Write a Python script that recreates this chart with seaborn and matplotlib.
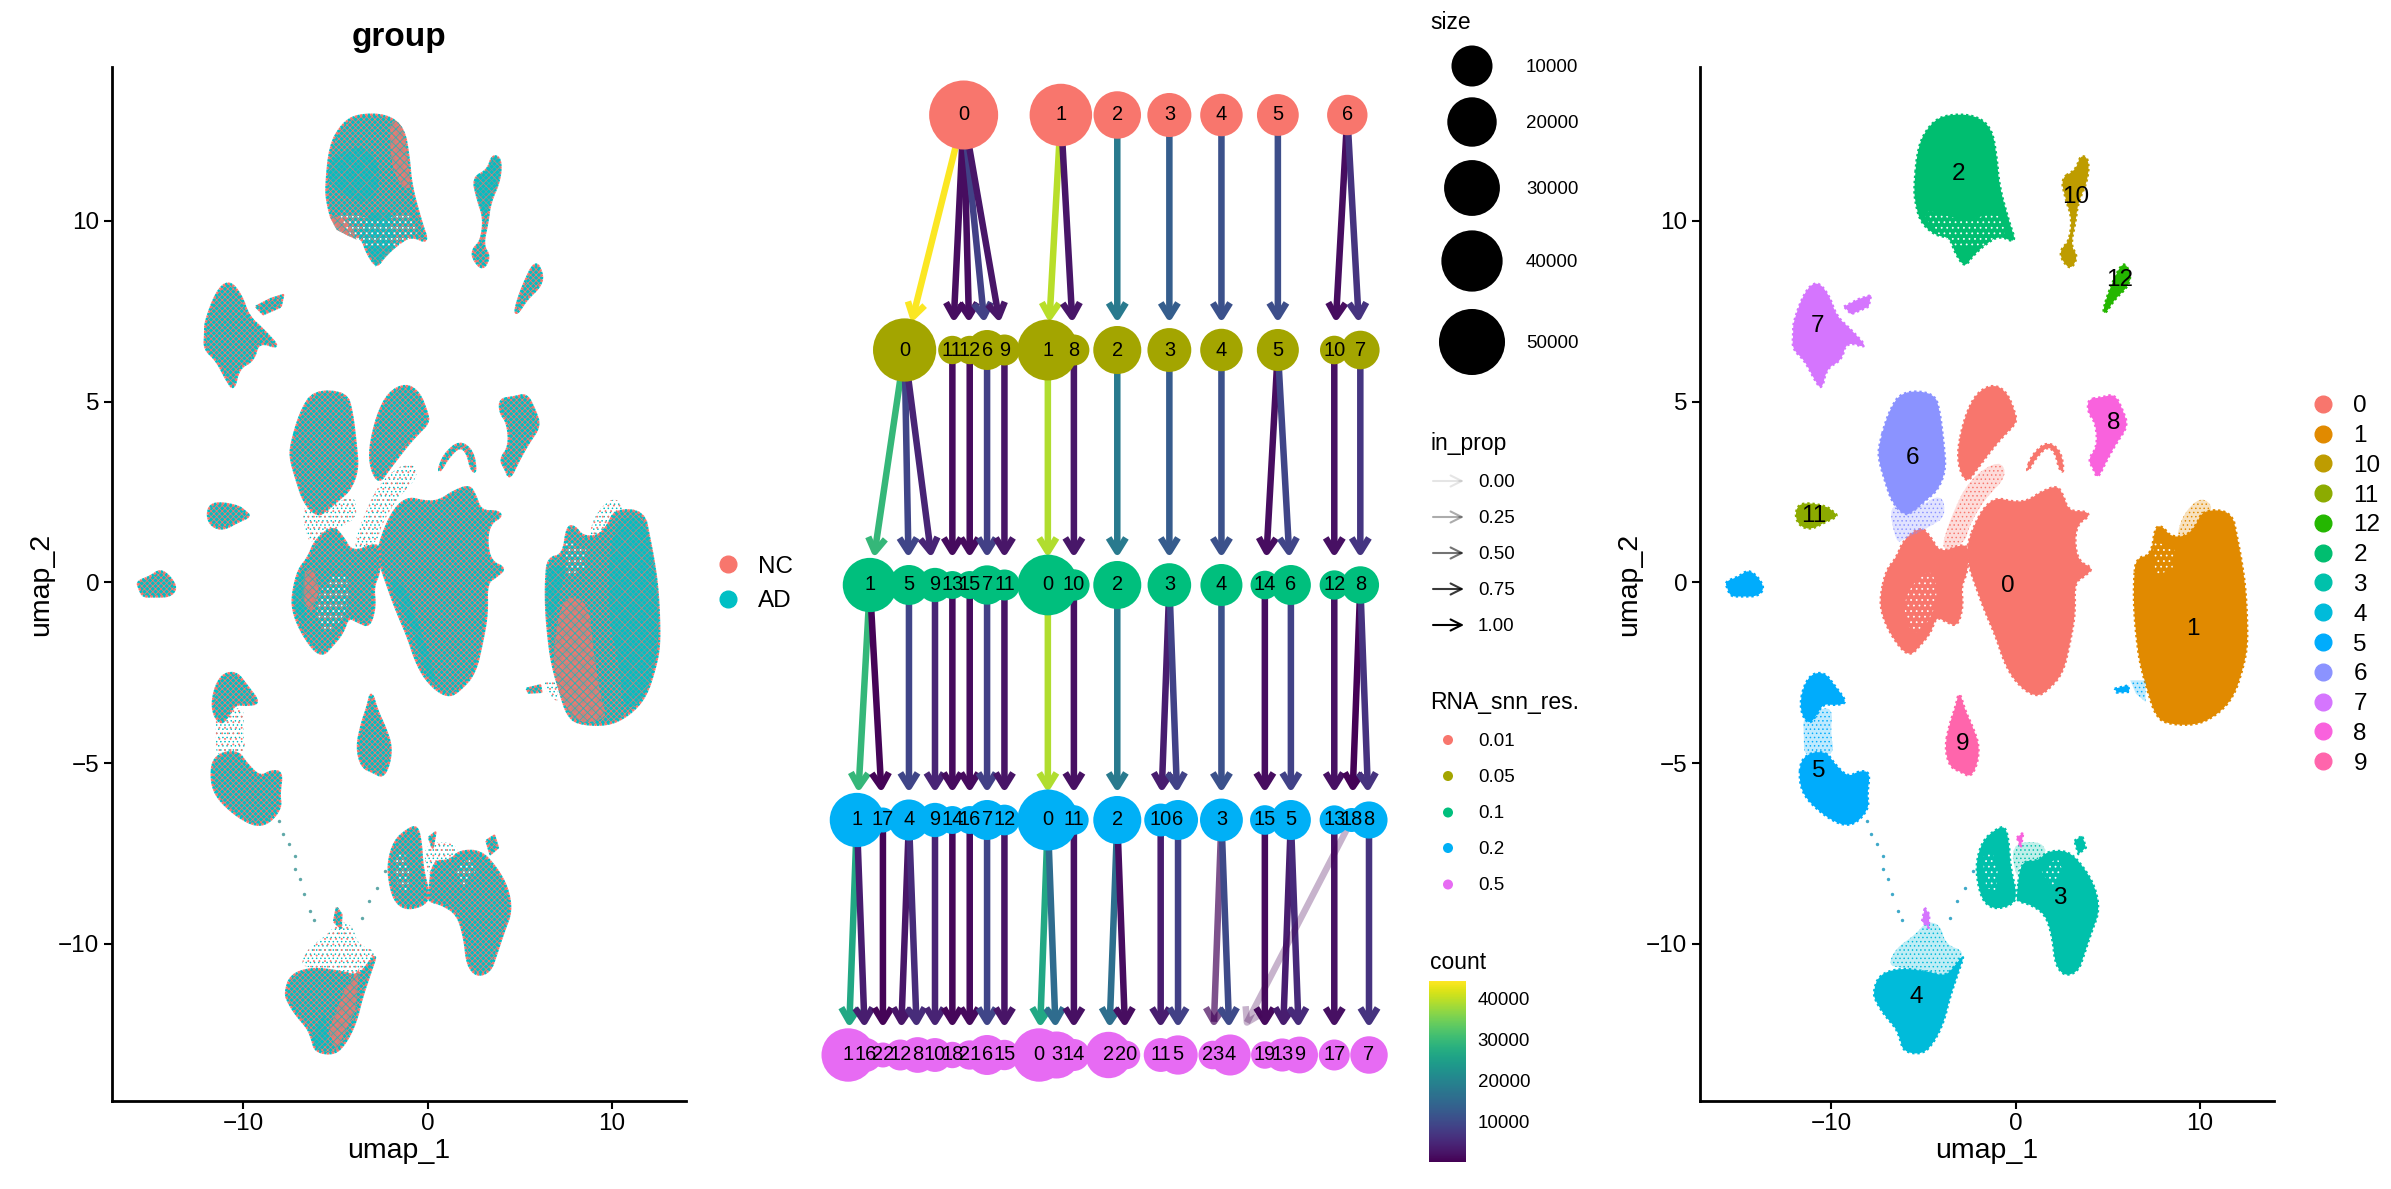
import numpy as np
import pandas as pd
import matplotlib
matplotlib.use("Agg")
import matplotlib.pyplot as plt
import seaborn as sns
from matplotlib.lines import Line2D
from matplotlib.patches import FancyArrowPatch
from matplotlib.colors import Normalize
from matplotlib.cm import ScalarMappable

# --- umap outlines (umap_1, umap_2) ---
c0_main = [(-2.53, 1.18), (-2.11, 1.73), (-1.59, 2.15), (-0.97, 2.34), (-0.24, 2.24), (0.59, 2.24), (1.42, 2.52),
           (2.25, 2.68), (2.57, 2.43), (2.88, 1.97), (3.81, 1.97), (4.02, 1.83), (3.40, 1.64), (3.19, 1.18),
           (3.40, 0.58), (4.23, 0.39), (3.71, 0.16), (3.19, -0.02), (3.23, -0.86), (2.98, -1.60), (2.57, -2.52),
           (1.73, -2.99), (1.21, -3.15), (0.59, -3.03), (-0.14, -2.66), (-0.66, -2.15), (-1.07, -1.50),
           (-1.70, -0.76), (-2.22, -0.02), (-2.53, 0.44), (-2.63, 0.90)]
c0_left = [(-7.31, -0.30), (-7.0, 0.35), (-6.48, 0.67), (-6.07, 1.18), (-5.13, 1.55), (-4.61, 1.27), (-4.09, 0.81),
           (-2.74, 1.09), (-2.53, 0.81), (-2.63, 0.25), (-2.95, -0.12), (-2.84, -0.67), (-3.15, -1.23),
           (-3.78, -1.09), (-4.30, -0.95), (-4.61, -1.41), (-5.23, -1.78), (-5.65, -2.01), (-6.17, -1.88),
           (-6.90, -1.32), (-7.31, -0.76)]
c0_upper = [(-3.15, 3.68), (-2.74, 4.61), (-2.11, 5.25), (-1.18, 5.49), (-0.45, 5.25), (-0.03, 4.70), (0.07, 4.42),
            (-0.66, 4.05), (-1.28, 3.68), (-2.11, 3.12), (-2.63, 2.75), (-3.05, 3.12)]
c0_arc = [(0.59, 3.12), (0.90, 3.54), (1.73, 3.91), (2.46, 3.63), (2.63, 3.03), (2.36, 3.12), (2.15, 3.59),
          (1.73, 3.77), (1.11, 3.45), (0.69, 3.08)]
c1_main = [(6.41, 0.07), (6.52, 0.67), (7.35, 0.76), (7.56, 1.55), (7.97, 1.55), (8.39, 1.27), (9.22, 1.27),
           (9.74, 1.55), (10.16, 2.01), (11.72, 1.97), (12.03, 1.18), (12.24, 0.62), (12.45, -0.12), (12.55, -1.04),
           (12.55, -1.78), (12.34, -2.34), (11.82, -3.17), (10.89, -3.68), (9.74, -3.96), (8.08, -3.91),
           (7.56, -3.64), (7.25, -3.17), (6.73, -2.25), (6.52, -1.41), (6.41, -0.67)]
c2_main = [(-5.51, 10.92), (-5.29, 12.09), (-4.63, 12.68), (-3.82, 12.94), (-2.22, 12.94), (-1.29, 12.57),
           (-1.02, 11.77), (-0.89, 10.98), (-0.35, 9.97), (0.05, 9.38), (-0.89, 9.60), (-1.69, 9.33), (-2.36, 9.01),
           (-2.76, 8.71), (-3.29, 9.12), (-3.56, 9.54), (-4.36, 9.60), (-5.16, 9.97), (-5.43, 10.50)]
c3_ring = [(-2.16, -7.80), (-1.80, -7.15), (-1.07, -6.83), (-0.55, -6.74), (-0.35, -7.25), (-0.28, -7.89),
           (0.07, -8.63), (-0.14, -8.91), (-1.07, -9.05), (-1.70, -8.87), (-2.01, -8.45)]
c3_main = [(0.07, -8.63), (0.28, -7.71), (1.21, -7.71), (1.73, -7.43), (2.88, -7.43), (3.71, -7.89), (4.33, -8.45),
           (4.54, -9.10), (4.13, -9.65), (3.71, -10.30), (3.40, -10.76), (2.67, -10.90), (2.15, -10.58),
           (2.00, -9.84), (1.63, -9.19), (0.80, -8.91), (0.07, -8.82)]
c3_top = [(3.19, -7.15), (3.61, -7.01), (3.81, -7.34), (3.40, -7.52)]
c4_main = [(-7.73, -11.37), (-7.42, -10.86), (-6.27, -10.67), (-4.82, -10.76), (-3.78, -10.90), (-3.26, -10.58),
           (-2.74, -10.25), (-3.15, -10.86), (-3.57, -11.50), (-3.88, -12.15), (-4.40, -12.71), (-5.03, -13.06),
           (-6.07, -12.99), (-6.27, -12.62), (-6.48, -12.34), (-7.11, -11.97), (-7.52, -11.64)]
c5_far = [(-15.74, 0.02), (-15.01, 0.16), (-14.49, 0.35), (-13.97, 0.16), (-13.60, -0.16), (-13.97, -0.39),
          (-14.91, -0.39), (-15.43, -0.39), (-15.63, -0.16)]
c5_upper = [(-11.68, -3.36), (-11.47, -2.85), (-11.02, -2.52), (-10.33, -2.50), (-9.81, -2.85), (-9.08, -3.34),
            (-9.81, -3.40), (-10.43, -3.36), (-10.85, -3.73), (-11.16, -3.91), (-11.52, -3.73)]
c5_lower = [(-11.72, -5.39), (-11.64, -4.93), (-11.06, -4.70), (-10.23, -4.70), (-9.81, -5.02), (-9.08, -5.39),
            (-8.46, -5.21), (-7.88, -5.25), (-8.04, -5.86), (-7.94, -6.23), (-8.56, -6.64), (-9.29, -6.74),
            (-10.23, -6.50), (-11.16, -6.09), (-11.58, -5.76)]
c5_small = [(5.37, -2.94), (6.10, -2.85), (6.16, -3.03), (5.48, -3.05)]
c6_main = [(-7.42, 3.77), (-6.90, 4.70), (-6.17, 5.30), (-4.40, 5.25), (-4.09, 4.70), (-3.88, 3.77), (-3.78, 3.12),
           (-4.19, 2.57), (-4.82, 2.29), (-5.44, 2.01), (-5.96, 1.83), (-6.69, 2.20), (-7.11, 2.85), (-7.42, 3.40)]
c7_main = [(-12.05, 7.20), (-11.43, 8.05), (-10.76, 8.35), (-10.10, 7.95), (-9.70, 7.36), (-8.90, 6.99),
           (-7.96, 6.46), (-9.16, 6.67), (-9.43, 6.14), (-10.23, 5.93), (-10.50, 5.31), (-10.90, 5.61),
           (-11.43, 6.14), (-12.10, 6.46), (-12.05, 6.88)]
c7_branch = [(-9.30, 7.63), (-8.50, 7.84), (-7.83, 7.95), (-7.96, 7.63), (-8.90, 7.42)]
c7_streak = [(-4.92, -9.00), (-4.67, -9.19), (-4.71, -9.56), (-5.07, -9.38)]
c8_main = [(3.92, 5.07), (4.65, 5.12), (5.37, 5.21), (5.79, 4.79), (6.10, 4.33), (5.48, 3.87), (4.96, 3.40),
           (4.44, 2.85), (4.23, 3.12), (3.92, 3.40), (4.44, 3.77), (4.33, 4.42), (3.92, 4.70)]
c8_streak = [(0.07, -7.06), (0.42, -6.92), (0.28, -7.34)]
c9_main = [(-3.84, -4.56), (-3.57, -3.91), (-3.26, -3.45), (-3.05, -2.99), (-2.74, -3.54), (-2.32, -4.00),
           (-1.97, -4.51), (-2.07, -5.02), (-2.43, -5.39), (-2.95, -5.25), (-3.57, -5.11)]
c10_main = [(2.45, 11.19), (3.25, 11.40), (3.52, 11.83), (3.97, 11.72), (3.92, 11.14), (3.38, 10.50), (3.25, 9.97),
            (2.98, 9.33), (3.38, 9.01), (2.98, 8.64), (2.45, 8.96), (2.45, 9.22), (2.90, 9.44), (3.06, 10.07),
            (2.71, 10.60)]
c11_main = [(-11.95, 1.83), (-11.79, 2.15), (-11.16, 2.20), (-10.23, 2.10), (-9.91, 1.97), (-9.60, 1.83),
            (-10.23, 1.69), (-11.06, 1.46), (-11.68, 1.55)]
c12_main = [(4.72, 7.52), (5.12, 8.16), (5.84, 8.93), (6.27, 8.48), (6.05, 8.16), (5.38, 7.84), (4.85, 7.42)]

# thin clouds of cells
sparse_5 = [(-11.52, -3.73), (-10.85, -3.54), (-9.91, -3.45), (-10.02, -4.19), (-9.81, -4.75), (-10.85, -4.84),
            (-11.47, -4.75), (-11.47, -4.28)]
sparse_4 = [(-6.90, -10.58), (-6.48, -10.12), (-5.44, -9.75), (-4.82, -9.38), (-4.09, -9.47), (-3.78, -10.02),
            (-2.74, -10.21), (-3.26, -10.58), (-3.78, -10.90), (-4.82, -10.76), (-6.27, -10.67)]
sparse_6 = [(-6.90, 2.20), (-5.44, 2.01), (-3.99, 2.48), (-3.78, 1.83), (-4.61, 1.55), (-6.07, 1.18), (-6.48, 1.09)]
sparse_0 = [(-4.09, 0.81), (-3.57, 1.73), (-2.53, 2.85), (-0.87, 3.40), (-0.45, 2.94), (-1.70, 2.29), (-2.53, 1.55),
            (-2.74, 1.09)]
sparse_1 = [(8.70, 1.27), (9.12, 1.92), (10.05, 2.38), (10.78, 2.06), (9.95, 1.55), (9.22, 1.27)]
sparse_5b = [(6.21, -2.71), (7.04, -2.71), (7.04, -3.31), (6.52, -3.08)]
sparse_3 = [(-0.28, -7.25), (1.21, -7.15), (1.73, -7.43), (1.21, -7.71), (0.28, -7.71), (0.07, -8.26)]
stray_x = [-8.04, -7.83, -7.52, -7.21, -7.21, -6.90, -6.69, -6.38, -6.17, -3.57, -3.15, -2.74, -2.32]
stray_y = [-6.60, -6.97, -7.25, -7.57, -7.94, -8.22, -8.63, -9.10, -9.33, -9.28, -8.82, -8.45, -7.99]

# speckled thin spots inside the dense clusters
thin_c0 = [(-5.86, -0.21), (-4.61, 0.44), (-4.19, -0.30), (-4.61, -1.04), (-5.55, -1.51), (-6.07, -0.86)]
thin_c1 = [(7.45, 1.18), (8.60, 0.90), (8.50, 0.35), (7.56, 0.20)]
thin_c2 = [(-5.16, 10.39), (-2.76, 9.97), (-0.89, 10.29), (-0.35, 9.54), (-2.76, 9.12), (-4.36, 9.65)]
thin_c3a = [(-1.80, -7.62), (-1.28, -7.43), (-0.97, -7.99), (-1.07, -8.54), (-1.59, -8.45)]
thin_c3b = [(1.42, -8.0), (2.25, -7.6), (2.57, -8.0), (1.94, -8.45)]

# group panel: parts where one group dominates
nc_c2 = [(-2.03, 12.89), (-1.24, 12.57), (-1.11, 11.72), (-0.85, 10.76), (-1.76, 11.19), (-2.03, 11.93)]
nc_c2b = [(-5.31, 10.12), (-4.39, 10.12), (-3.85, 9.48), (-4.93, 9.75)]
nc_c1 = [(7.09, -0.81), (7.71, -0.33), (8.75, -0.62), (8.95, -1.77), (9.37, -3.20), (9.78, -3.78), (8.12, -3.92),
         (7.19, -3.20), (6.77, -2.25)]
nc_c4 = [(-4.94, -12.96), (-3.91, -11.82), (-3.70, -10.67), (-4.53, -11.3), (-5.36, -12.4)]
nc_c0 = [(-6.71, 0.24), (-6.19, 0.39), (-5.88, -0.24), (-6.29, -0.81), (-6.81, -0.43)]
ad_c2 = [(-5.31, 11.71), (-3.60, 12.14), (-2.55, 11.60), (-2.82, 10.43), (-4.39, 10.65), (-5.44, 11.07)]
ad_c2b = [(-3.60, 9.59), (-2.82, 8.73), (-1.76, 9.27), (-2.03, 10.23), (-3.09, 10.23)]
ad_c1 = [(9.90, 1.60), (11.70, 1.95), (12.27, 0.62), (12.52, -0.33), (12.52, -1.77), (11.86, -3.2), (10.61, -3.59),
         (10.40, -2.25), (9.78, -1.0)]
ad_c1b = [(6.46, 0.43), (7.50, 0.43), (7.09, -0.53), (6.57, -1.29), (6.36, -0.5)]
ad_c4 = [(-6.29, -12.58), (-5.98, -12.96), (-5.36, -12.77), (-5.57, -11.91)]
ad_c0 = [(-7.37, -0.33), (-7.02, 0.15), (-6.60, 0.48), (-6.70, -0.33), (-6.60, -1.19), (-7.02, -1.0)]
ad_c0b = [(-0.80, -1.29), (-1.62, -0.52), (-2.04, 0.05), (-1.42, 0.15), (-0.38, -1.29), (0.66, -3.01), (-0.17, -2.44)]
ad_c10 = [(2.45, 11.19), (3.25, 11.40), (3.52, 11.83), (3.97, 11.72), (3.92, 11.14), (3.38, 10.50), (3.06, 10.07),
          (2.71, 10.60)]

cluster_levels = ["0", "1", "10", "11", "12", "2", "3", "4", "5", "6", "7", "8", "9"]
cluster_colors = ["#F8766D", "#E18A00", "#BE9C00", "#8CAB00", "#24B700", "#00BE70", "#00C1AB",
                  "#00BBDA", "#00ACFC", "#8B93FF", "#D575FE", "#F962DD", "#FF65AC"]
cluster_label_x = [-0.4, 9.6, 3.25, -10.95, 5.65, -3.07, 2.42, -5.4, -10.64, -5.59, -10.71, 5.29, -2.88]
cluster_label_y = [-0.1, -1.3, 10.66, 1.83, 8.37, 11.3, -8.73, -11.46, -5.23, 3.45, 7.08, 4.40, -4.47]
group_levels = ["NC", "AD"]
group_colors = ["#F8766D", "#00BFC4"]

# --- clustering tree: one list of clusters and cell counts per resolution ---
res_levels = ["0.01", "0.05", "0.1", "0.2", "0.5"]
res_colors = ["#F8766D", "#A3A500", "#00BF7D", "#00B0F6", "#E76BF3"]
labels_001 = [0, 1, 2, 3, 4, 5, 6]
counts_001 = [56800, 42500, 17400, 13200, 11500, 10800, 9400]
labels_005 = [0, 11, 12, 6, 9, 1, 8, 2, 3, 4, 5, 10, 7]
counts_005 = [44000, 1400, 1400, 9000, 2540, 39500, 2540, 18100, 13000, 11500, 11000, 1480, 7740]
labels_01 = [1, 5, 9, 13, 15, 7, 11, 0, 10, 2, 3, 4, 14, 6, 12, 8]
counts_01 = [27400, 9000, 4450, 1230, 1230, 8360, 2540, 38900, 2750, 18100, 12700, 11000, 1480, 9000, 1770, 6800]
labels_02 = [1, 17, 4, 9, 14, 16, 7, 12, 0, 11, 2, 10, 6, 3, 15, 5, 13, 18, 8]
counts_02 = [27400, 430, 10000, 4450, 1230, 1230, 9000, 2400, 39500, 1890, 18100, 3570, 9000, 11900, 1890, 9000,
             1770, 250, 6500]
labels_05 = [1, 16, 22, 12, 8, 10, 18, 21, 6, 15, 0, 3, 14, 2, 20, 11, 5, 23, 4, 19, 13, 9, 17, 7]
counts_05 = [26000, 4250, 430, 2540, 5450, 4190, 770, 1780, 9000, 2250, 26000, 16800, 3060, 16000, 1480, 4190,
             8360, 1480, 10000, 1100, 3700, 6280, 2540, 6800]
# order of the bottom row in the tree layout, with its gaps
slots_05 = [0, 1, 2, 3, 4, 5, 6, 7, 8, 9, 11, 12, 13, 15, 16, 18, 19, 21, 22, 24, 25, 26, 28, 30]
slot_18_res02 = 29  # cluster 18 has no main child

# edges: (from, to, count, in_prop)
edges_001 = [(0, 0, 44000, 1), (0, 11, 1400, 1), (0, 12, 1400, 1), (0, 6, 8500, 1), (0, 9, 2500, 1),
             (1, 1, 39500, 1), (1, 8, 2500, 1), (2, 2, 18000, 1), (3, 3, 13000, 1), (4, 4, 11000, 1),
             (5, 5, 10500, 1), (6, 10, 1400, 1), (6, 7, 6500, 1)]
edges_005 = [(0, 1, 29500, 1), (0, 5, 9000, 1), (0, 9, 4450, 1), (11, 13, 1230, 1), (12, 15, 1230, 1),
             (6, 7, 8360, 1), (9, 11, 2540, 1), (1, 0, 38900, 1), (8, 10, 2750, 1), (2, 2, 18000, 1),
             (3, 3, 12700, 1), (4, 4, 11000, 1), (5, 14, 1480, 1), (5, 6, 9000, 1), (10, 12, 1770, 1), (7, 8, 6800, 1)]
edges_01 = [(1, 1, 29500, 1), (1, 17, 430, 1), (5, 4, 9000, 1), (9, 9, 4450, 1), (13, 14, 1230, 1), (15, 16, 1230, 1),
            (7, 7, 8360, 1), (11, 12, 2400, 1), (0, 0, 38900, 1), (10, 11, 1890, 1), (2, 2, 18000, 1),
            (3, 10, 3570, 1), (3, 6, 8800, 1), (4, 3, 11000, 1), (14, 15, 1480, 1), (6, 5, 8800, 1),
            (12, 13, 1770, 1), (8, 18, 250, 1), (8, 8, 6500, 1)]
edges_02 = [(1, 1, 26500, 1), (1, 16, 3500, 1), (17, 22, 430, 1), (4, 12, 2500, 1), (4, 8, 5400, 1), (9, 10, 4190, 1),
            (14, 18, 770, 1), (16, 21, 1200, 1), (7, 6, 9000, 1), (12, 15, 2250, 1), (0, 0, 26500, 1),
            (0, 3, 15500, 1), (11, 14, 1890, 1), (2, 2, 16000, 1), (2, 20, 1480, 1), (10, 11, 3500, 1),
            (6, 5, 8300, 1), (3, 23, 1000, 0.67), (3, 4, 10000, 1), (15, 19, 1100, 1), (5, 13, 3500, 1),
            (5, 9, 5300, 1), (13, 17, 1770, 1), (18, 4, 250, 0.22), (8, 7, 6500, 1)]

size_breaks = [10000, 20000, 30000, 40000, 50000]
in_prop_breaks = [0.00, 0.25, 0.50, 0.75, 1.00]
count_ticks = [10000, 20000, 30000, 40000]
count_max = 44200

blobs = {
    "0": [c0_main, c0_left, c0_upper, c0_arc], "1": [c1_main], "2": [c2_main], "3": [c3_ring, c3_main, c3_top],
    "4": [c4_main], "5": [c5_far, c5_upper, c5_lower, c5_small], "6": [c6_main], "7": [c7_main, c7_branch, c7_streak],
    "8": [c8_main, c8_streak], "9": [c9_main], "10": [c10_main], "11": [c11_main], "12": [c12_main],
}
sparse = {"5": [sparse_5, sparse_5b], "4": [sparse_4], "6": [sparse_6], "0": [sparse_0], "1": [sparse_1],
          "3": [sparse_3]}
thin_spots = [thin_c0, thin_c1, thin_c2, thin_c3a, thin_c3b]

sns.set_theme(style="ticks")
plt.rcParams["font.family"] = ["Liberation Sans", "DejaVu Sans"]
plt.rcParams["hatch.linewidth"] = 0.55
W, H = 2391, 1189
FS = 17.5


def box(x0, y0, x1, y1):
    # pixel box of the picture -> figure fractions
    return [x0 / W, 1 - y1 / H, (x1 - x0) / W, (y1 - y0) / H]


def umap_axes(x0):
    ax = fig.add_axes(box(x0, 67, x0 + 574, 1101))
    ax.set_xlim(-17.1, 14.0)
    ax.set_ylim(-14.35, 14.26)
    ax.set_xticks([-10, 0, 10], ["\u221210", "0", "10"])
    ax.set_yticks([-10, -5, 0, 5, 10], ["\u221210", "\u22125", "0", "5", "10"])
    ax.tick_params(labelsize=FS, width=1.5, length=5.5, color="black", labelcolor="black", pad=3.5)
    ax.set_xlabel("umap_1", fontsize=20.5, color="black", labelpad=2)
    ax.set_ylabel("umap_2", fontsize=20.5, color="black", labelpad=3)
    for side in ["left", "bottom"]:
        ax.spines[side].set_linewidth(2)
        ax.spines[side].set_color("black")
    sns.despine(ax=ax)
    return ax


def smooth(outline):
    # round the corners of a hand read outline (two Chaikin passes)
    pts = np.array(outline, dtype=float)
    if len(pts) < 6:
        return pts
    for _ in range(2):
        nxt = np.roll(pts, -1, axis=0)
        pts = np.column_stack([0.75 * pts + 0.25 * nxt, 0.25 * pts + 0.75 * nxt]).reshape(-1, 2)
    return pts


def blob(ax, outline, face, hatch=None, hatch_col="none", rims=(), z=2, alpha=None):
    pts = smooth(outline)
    xs, ys = list(pts[:, 0]), list(pts[:, 1])
    ax.fill(xs, ys, facecolor=face, edgecolor=hatch_col, hatch=hatch, linewidth=0, zorder=z, alpha=alpha)
    for i, rim in enumerate(rims):
        ax.plot(xs + xs[:1], ys + ys[:1], color=rim, lw=1.7, ls=(i * 1.1, (1, 1.2)), zorder=z)


fig = plt.figure(figsize=(W / 100, H / 100), dpi=100)

# --- left panel: cells by group ---
ax_left = umap_axes(112)
salmon, teal = group_colors
for cl in blobs:
    for part in sparse.get(cl, []):
        blob(ax_left, part, "none", hatch="....", hatch_col=teal)
        blob(ax_left, part, "none", hatch="...", hatch_col=salmon)
    for part in blobs[cl]:
        blob(ax_left, part, teal, hatch="xxxxxx", hatch_col=salmon, rims=(teal, salmon))
for part in [nc_c2, nc_c2b, nc_c1, nc_c4, nc_c0]:
    blob(ax_left, part, salmon, hatch="xxxx", hatch_col=teal, z=3, alpha=0.8)
for part in [ad_c2, ad_c2b, ad_c1, ad_c1b, ad_c4, ad_c0, ad_c0b, ad_c10]:
    blob(ax_left, part, teal, hatch="xx", hatch_col=salmon, z=3, alpha=0.55)
for part in thin_spots:
    blob(ax_left, part, "none", hatch="...", hatch_col="white", z=4)
sns.scatterplot(x=stray_x, y=stray_y, color="#5fa8a8", s=6, linewidth=0, ax=ax_left)
ax_left.set_title("group", fontsize=24, fontweight="bold", color="black", pad=15)
ax_left.legend(
    handles=[Line2D([], [], ls="", marker="o", ms=12, color=c) for c in group_colors], labels=group_levels,
    loc="center left", bbox_to_anchor=(711 / W, 1 - 584 / H), bbox_transform=fig.transFigure, frameon=False,
    fontsize=FS, labelspacing=0.5, handletextpad=0.55, borderpad=0, borderaxespad=0, handlelength=1.4,
    labelcolor="black",
)

# --- right panel: cells by cluster ---
ax_right = umap_axes(1700)
color_of = dict(zip(cluster_levels, cluster_colors))
for cl in cluster_levels:
    col = color_of[cl]
    for part in sparse.get(cl, []):
        blob(ax_right, part, matplotlib.colors.to_rgba(col, 0.25), hatch="....", hatch_col=col)
    for part in blobs[cl]:
        blob(ax_right, part, col, rims=(col,))
for part in thin_spots:
    blob(ax_right, part, "none", hatch="...", hatch_col="white", z=4)
strays = pd.DataFrame({"x": stray_x, "y": stray_y})
sns.scatterplot(data=strays, x="x", y="y", color="#3fa9c9", s=6, linewidth=0, ax=ax_right)
ax_right.set_xlabel("umap_1", fontsize=20.5, color="black")
ax_right.set_ylabel("umap_2", fontsize=20.5, color="black")
for lab, x, y in zip(cluster_levels, cluster_label_x, cluster_label_y):
    ax_right.text(x, y, lab, ha="center", va="center", fontsize=FS, color="black", zorder=6)
ax_right.legend(
    handles=[Line2D([], [], ls="", marker="o", ms=12, color=c) for c in cluster_colors], labels=cluster_levels,
    loc="center left", bbox_to_anchor=(2306 / W, 1 - 585 / H), bbox_transform=fig.transFigure, frameon=False,
    fontsize=FS, labelspacing=0.32, handletextpad=0.55, borderpad=0, borderaxespad=0, handlelength=1.4,
    labelcolor="black",
)

# --- middle: clustering tree ---
level_labels = [labels_001, labels_005, labels_01, labels_02, labels_05]
level_counts = [counts_001, counts_005, counts_01, counts_02, counts_05]
level_edges = [edges_001, edges_005, edges_01, edges_02]

# a parent sits over the mean of the clusters it mainly feeds
slot_of = {(4, lab): s for lab, s in zip(labels_05, slots_05)}
slot_of[(3, 18)] = slot_18_res02
for lev in [3, 2, 1, 0]:
    for parent in level_labels[lev]:
        kids = [slot_of[(lev + 1, e[1])] for e in level_edges[lev] if e[0] == parent and e[3] >= 0.5]
        if kids:
            slot_of[(lev, parent)] = float(np.mean(kids))

nodes = pd.DataFrame(
    [{"res": res_levels[lev], "level": lev, "cluster": lab, "count": cnt, "slot": slot_of[(lev, lab)]}
     for lev in range(5) for lab, cnt in zip(level_labels[lev], level_counts[lev])]
)


def node_area(count):
    # ggplot area scale: diameter grows with sqrt(count), matching the size legend
    diam_px = 20.8 + 0.2023 * np.sqrt(count)
    return (diam_px * 72 / 100) ** 2


SLOT0, SLOT_W, ROW0, ROW_H = 848.2, 17.36, 115, 235
ax_tree = fig.add_axes(box(800, 60, 1420, 1110))
viridis = sns.color_palette("viridis", as_cmap=True)
norm = Normalize(0, count_max)
ARROW_GAP = 27 / ROW_H
for lev, edges in enumerate(level_edges):
    for parent, child, count, in_prop in edges:
        x0, x1 = slot_of[(lev, parent)], slot_of[(lev + 1, child)]
        tip_x = x1 + (x0 - x1) * ARROW_GAP
        ax_tree.add_patch(FancyArrowPatch(
            (x0, lev), (tip_x, lev + 1 - ARROW_GAP), arrowstyle="->,head_length=10,head_width=6.2", mutation_scale=1,
            lw=4.7, color=viridis(norm(count)), alpha=0.1 + 0.9 * in_prop, shrinkA=0, shrinkB=0,
            capstyle="butt", joinstyle="round", zorder=1,
        ))

sns.scatterplot(
    data=nodes, x="slot", y="level", hue="res", palette=dict(zip(res_levels, res_colors)), size="count",
    sizes={c: node_area(c) for c in nodes["count"].unique()}, linewidth=0, alpha=1, legend=False, zorder=3, ax=ax_tree,
)
ax_tree.set_xlim((800 - SLOT0) / SLOT_W, (1420 - SLOT0) / SLOT_W)
ax_tree.set_ylim((1110 - ROW0) / ROW_H, (60 - ROW0) / ROW_H)
ax_tree.axis("off")
for _, row in nodes.iterrows():
    ax_tree.text(row["slot"], row["level"], str(row["cluster"]), ha="center", va="center", fontsize=14.4,
                 color="black", zorder=4)

# --- tree legends, laid out in picture pixels ---
ax_leg = fig.add_axes([0, 0, 1, 1])
ax_leg.patch.set_alpha(0)


def leg_text(x, y, s, size=13.5):
    ax_leg.text(x, y + 1.5, s, fontsize=size, color="black", va="center", ha="left")


leg_text(1430, 21, "size", 16.5)
size_rows = [66, 122, 188, 261, 342]
size_df = pd.DataFrame({"x": 1472, "y": size_rows, "n": size_breaks})
sns.scatterplot(data=size_df, x="x", y="y", size="n", sizes={n: node_area(n) for n in size_breaks}, color="black",
                linewidth=0, legend=False, ax=ax_leg)
for y, n in zip(size_rows, size_breaks):
    leg_text(1526, y, str(n))

leg_text(1430, 442, "in_prop", 16.5)
for y, v in zip([481, 517, 553, 589, 625], in_prop_breaks):
    ax_leg.add_patch(FancyArrowPatch(
        (1433, y), (1464, y), arrowstyle="->,head_length=8,head_width=4", mutation_scale=1, lw=1.5, color="black",
        alpha=0.1 + 0.9 * v, shrinkA=0, shrinkB=0,
    ))
    leg_text(1478, y, f"{v:.2f}")

leg_text(1430, 701, "RNA_snn_res.", 16.5)
res_rows = [740, 776, 812.5, 848, 884.5]
res_df = pd.DataFrame({"x": 1448, "y": res_rows, "res": res_levels})
sns.scatterplot(data=res_df, x="x", y="y", hue="res", palette=dict(zip(res_levels, res_colors)), s=52, linewidth=0,
                legend=False, ax=ax_leg)
for y, r in zip(res_rows, res_levels):
    leg_text(1478, y, r)
leg_text(1430, 961, "count", 16.5)
ax_leg.set_xlim(0, W)
ax_leg.set_ylim(H, 0)
ax_leg.axis("off")

cax = fig.add_axes(box(1429, 981, 1466, 1162))
cb = fig.colorbar(ScalarMappable(norm=norm, cmap=viridis), cax=cax, ticks=count_ticks)
cb.outline.set_visible(False)
cax.tick_params(left=True, right=True, direction="in", color="white", width=1, length=5.5, labelsize=13.5, pad=8.5,
                labelcolor="black")
cax.minorticks_off()

fig.savefig("out.png", dpi=100, facecolor="white")
